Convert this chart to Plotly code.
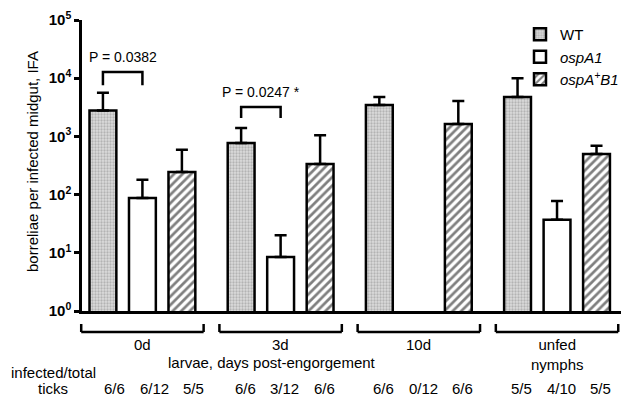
import numpy as np
import plotly.graph_objects as go

# ---------------- data ----------------
groups = ["0d", "3d", "10d", "unfed<br>nymphs"]
strains = ["WT", "<i>ospA1</i>", "<i>ospA<sup>+</sup>B1</i>"]
wt_vals = [2800, 770, 3460, 4750]
wt_err = [5600, 1390, 4750, 10000]
ospa1_vals = [87, 8.5, None, 37]
ospa1_err = [180, 20, None, 78]
b1_vals = [245, 335, 1630, 500]
b1_err = [590, 1050, 4050, 690]
counts = [["6/6", "6/12", "5/5"], ["6/6", "3/12", "6/6"],
          ["6/6", "0/12", "6/6"], ["5/5", "4/10", "5/5"]]
ytick_vals = [1, 10, 100, 1000, 10000, 100000]
ytick_text = ["10<sup>0</sup>", "10<sup>1</sup>", "10<sup>2</sup>",
              "10<sup>3</sup>", "10<sup>4</sup>", "10<sup>5</sup>"]
pvals = ["P = 0.0382", "P = 0.0247 *"]
p_groups = [0, 1]
p_heights = [12800, 3200]   # bracket top
p_legs = [7600, 2070]       # bracket leg bottom
y_title = "borreliae per infected midgut, IFA"
x_title = "larvae, days post-engorgement"
row_title = ["infected/total", "ticks"]

FONT = "Arial, Liberation Sans, sans-serif"

# slot positions: 3 bars per group, 1.5 slot gap between groups
group_start = [i * 3.5 for i in range(len(groups))]
def pos(g, s):
    return group_start[g] + s

XMIN, XMAX = -0.53, 13.12

series = [
    (wt_vals, wt_err, dict(color="#d9d9d9", pattern=dict(shape=".", fgcolor="#8a8a8a", bgcolor="#dcdcdc", size=3, solidity=0.45))),
    (ospa1_vals, ospa1_err, dict(color="white")),
    (b1_vals, b1_err, dict(color="white", pattern=dict(shape="/", fgcolor="black", bgcolor="white", size=6, solidity=0.45))),
]

fig = go.Figure()
for si, (vals, errs, mk) in enumerate(series):
    xs = [pos(g, si) for g in range(len(groups))]
    up = [None if v is None else e - v for v, e in zip(vals, errs)]
    dn = [None if v is None else 0 for v in vals]
    marker = dict(line=dict(color="black", width=2.5), **mk)
    fig.add_trace(go.Bar(
        x=xs, y=vals, name=strains[si], width=0.68, marker=marker,
        error_y=dict(type="data", symmetric=False, array=up, arrayminus=dn,
                     color="black", thickness=2.5, width=6),
    ))

# p-value brackets
for k, g in enumerate(p_groups):
    x0, x1 = pos(g, 0), pos(g, 1)
    fig.add_trace(go.Scatter(
        x=[x0, x0, x1, x1], y=[p_legs[k], p_heights[k], p_heights[k], p_legs[k]],
        mode="lines", line=dict(color="black", width=2.5), showlegend=False,
        hoverinfo="skip"))
    fig.add_annotation(x=(x0 + x1) / 2, y=np.log10(p_heights[k]) + 0.26, xref="x", yref="y",
                       text=pvals[k], showarrow=False, xanchor="center", yanchor="middle",
                       font=dict(family=FONT, size=14, color="black"))

def px(x):
    return (x - XMIN) / (XMAX - XMIN)

def py(pix):
    # pixel row -> paper y (plot area from row 20 to 311)
    return (311 - pix) / 291.0

def pxp(pix):
    # pixel column -> paper x (plot area from column 82 to 621)
    return (pix - 82) / 539.0

TXT = dict(family=FONT, size=15, color="black")

# group brackets below the axis
shapes = []
for g in range(len(groups)):
    c = pos(g, 1)
    a, b = px(c - 1.55), px(c + 1.55)
    yb, yt = py(332), py(324)
    for (xa, ya, xb, yb2) in [(a, yb, b, yb), (a, yb, a, yt), (b, yb, b, yt)]:
        shapes.append(dict(type="line", xref="paper", yref="paper", x0=xa, y0=ya, x1=xb, y1=yb2,
                           line=dict(color="black", width=2.5)))
    fig.add_annotation(x=px(c), y=py(334), xref="paper", yref="paper", text=groups[g],
                       showarrow=False, xanchor="center", yanchor="top",
                       font=TXT)
    for s in range(3):
        fig.add_annotation(x=px(pos(g, s)) + (0.022 if g == 0 else 0.008), y=py(388), xref="paper", yref="paper",
                           text=counts[g][s], showarrow=False, xanchor="center", yanchor="middle",
                           font=TXT)

fig.add_annotation(x=pxp(272), y=py(362), xref="paper", yref="paper",
                   text=x_title, showarrow=False,
                   xanchor="center", yanchor="middle", font=TXT)
fig.add_annotation(x=pxp(53), y=py(372), xref="paper", yref="paper",
                   text=row_title[0], showarrow=False,
                   xanchor="center", yanchor="middle", font=TXT)
fig.add_annotation(x=pxp(53), y=py(399), xref="paper", yref="paper",
                   text=row_title[1], showarrow=False,
                   xanchor="center", yanchor="bottom", font=TXT)
fig.add_annotation(x=pxp(32), y=py(162), xref="paper", yref="paper",
                   text=y_title, showarrow=False, textangle=-90,
                   xanchor="center", yanchor="middle", font=TXT)

fig.update_layout(
    width=621, height=398,
    margin=dict(l=82, r=0, t=20, b=87, autoexpand=False),
    plot_bgcolor="white", paper_bgcolor="white",
    barmode="overlay",
    shapes=shapes,
    showlegend=True,
    legend=dict(x=pxp(520), y=py(18),
                xanchor="left", yanchor="top",
                font=dict(family=FONT, size=15, color="black"),
                bgcolor="rgba(0,0,0,0)", tracegroupgap=0, itemwidth=30),
    xaxis=dict(range=[XMIN, XMAX], showticklabels=False, ticks="", showgrid=False,
               zeroline=False, showline=True, linecolor="black", linewidth=2.5),
    yaxis=dict(type="log", range=[0, 5], tickvals=ytick_vals, ticktext=ytick_text,
               ticks="outside", ticklen=5, tickwidth=2.5, tickcolor="black",
               showgrid=False, zeroline=False, showline=True, linecolor="black", linewidth=2.5,
               tickfont=dict(family=FONT, size=15, color="black", weight="bold")),
)

fig.write_html("out.html")
